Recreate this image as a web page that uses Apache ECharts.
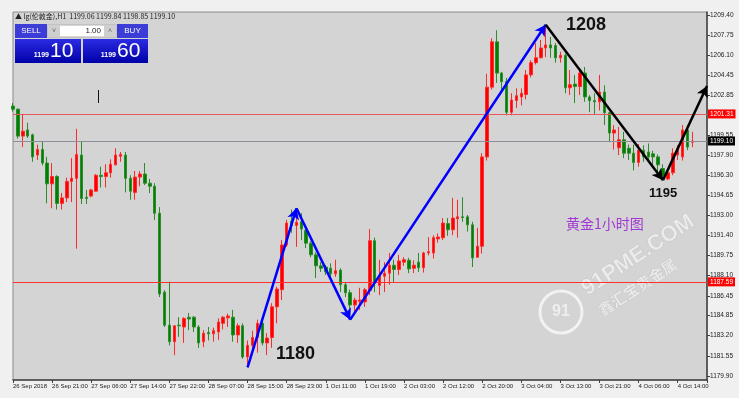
<!DOCTYPE html>
<html lang="zh-CN">
<head>
<meta charset="utf-8">
<title>黄金1小时图</title>
<script src="https://cdn.jsdelivr.net/npm/echarts@6/dist/echarts.min.js"></script>
<style>
  * { margin: 0; padding: 0; }
  html, body, #chart { width: 100%; height: 100%; overflow: hidden; background: #f0f0f0; }
</style>
</head>
<body>
<div id="chart"></div>
<script>
// H1 bars (open / close / low / high)
var opens = [
  1201.95, 1201.7, 1199.5, 1200.0, 1199.6, 1197.95, 1198.4, 1197.3, 1195.6, 1196.2,
  1194.0, 1194.45, 1195.8, 1196.05, 1197.95, 1194.5, 1194.6, 1195.0, 1196.3, 1196.2,
  1196.5, 1197.15, 1197.85, 1197.95, 1196.05, 1194.9, 1196.15, 1196.4, 1195.65, 1195.4,
  1193.2, 1186.75, 1184.05, 1182.7, 1184.05, 1183.9, 1184.7, 1184.7, 1183.9, 1182.7,
  1183.45, 1183.35, 1183.5, 1184.2, 1184.65, 1184.7, 1183.25, 1184.0, 1181.45, 1182.4,
  1183.05, 1184.2, 1182.6, 1183.05, 1185.55, 1186.95, 1190.6, 1192.55, 1192.2, 1192.5,
  1191.8, 1190.75, 1189.8, 1188.9, 1188.8, 1188.7, 1188.25, 1188.55, 1187.35, 1186.7,
  1185.7, 1186.0, 1185.95, 1186.9, 1190.95, 1187.3, 1188.05, 1188.3, 1188.95, 1188.6,
  1189.2, 1189.35, 1188.7, 1189.2, 1188.75, 1189.95, 1189.95, 1191.1, 1191.2, 1192.35,
  1191.85, 1192.75, 1192.9, 1192.9, 1192.25, 1189.6, 1190.5, 1197.8, 1203.5, 1207.2,
  1204.65, 1203.95, 1201.45, 1202.4, 1202.7, 1202.9, 1204.5, 1205.5, 1205.9, 1206.7,
  1206.95, 1206.9, 1205.9, 1206.1, 1203.45, 1203.75, 1203.55, 1204.65, 1202.7, 1202.4,
  1202.3, 1203.1, 1201.4, 1199.75, 1198.55, 1199.2, 1198.5, 1198.1, 1197.35, 1198.35,
  1198.2, 1198.05, 1197.8, 1196.85, 1196.0, 1196.5, 1197.95, 1197.8, 1200.0, 1199.0
];
var closes = [
  1201.7, 1199.5, 1199.9, 1199.5, 1197.8, 1198.4, 1197.3, 1195.6, 1196.2, 1194.0,
  1194.45, 1195.8, 1196.05, 1198.0, 1194.4, 1194.4, 1195.1, 1196.3, 1196.2, 1196.5,
  1197.2, 1197.95, 1198.0, 1196.05, 1195.0, 1196.15, 1196.4, 1195.65, 1195.4, 1193.2,
  1186.6, 1184.05, 1182.7, 1184.0, 1184.0, 1184.6, 1184.55, 1183.9, 1182.6, 1183.4,
  1183.35, 1183.6, 1184.3, 1184.7, 1184.8, 1183.25, 1184.0, 1181.45, 1182.4, 1183.05,
  1184.2, 1182.6, 1183.0, 1185.55, 1187.0, 1190.6, 1192.4, 1192.2, 1192.45, 1191.9,
  1190.75, 1189.8, 1188.9, 1188.7, 1188.4, 1188.25, 1188.5, 1187.35, 1186.7, 1185.7,
  1186.1, 1186.1, 1186.95, 1190.95, 1187.5, 1188.05, 1188.3, 1188.95, 1188.6, 1189.3,
  1189.4, 1188.65, 1188.95, 1188.75, 1189.95, 1190.05, 1191.2, 1191.25, 1192.4, 1191.85,
  1192.8, 1192.9, 1192.85, 1192.25, 1189.55, 1190.5, 1197.8, 1203.5, 1207.2, 1204.65,
  1203.95, 1201.45, 1202.45, 1202.8, 1203.0, 1204.5, 1205.5, 1205.9, 1206.7, 1206.95,
  1206.7, 1205.9, 1206.1, 1203.45, 1203.7, 1203.55, 1204.65, 1202.7, 1202.4, 1202.3,
  1203.1, 1201.4, 1199.75, 1200.0, 1199.2, 1198.1, 1198.1, 1197.35, 1198.35, 1197.8,
  1197.8, 1197.8, 1197.15, 1196.25, 1196.5, 1198.1, 1198.5, 1200.0, 1198.6, 1199.1
];
var lows = [
  1201.5, 1199.3, 1198.6, 1199.35, 1197.4, 1197.55, 1197.1, 1194.0, 1193.6, 1193.5,
  1193.5, 1194.1, 1194.1, 1190.3, 1193.95, 1193.95, 1194.5, 1194.95, 1195.3, 1195.3,
  1196.1, 1197.1, 1197.4, 1194.9, 1194.3, 1194.3, 1195.4, 1195.5, 1194.85, 1192.65,
  1186.35, 1183.9, 1182.4, 1181.6, 1183.1, 1182.6, 1183.65, 1183.5, 1182.2, 1182.25,
  1182.8, 1182.7, 1182.85, 1183.7, 1183.9, 1182.7, 1182.6, 1181.3, 1180.6, 1182.1,
  1181.8, 1182.4, 1181.6, 1182.2, 1184.2, 1186.1, 1190.45, 1191.6, 1190.45, 1191.0,
  1190.35, 1189.6, 1187.9, 1188.4, 1188.15, 1188.0, 1188.0, 1186.75, 1186.35, 1184.9,
  1185.0, 1185.3, 1185.55, 1186.5, 1186.75, 1186.5, 1186.75, 1187.35, 1187.5, 1188.15,
  1188.9, 1188.3, 1188.3, 1188.4, 1188.35, 1189.75, 1189.5, 1190.8, 1191.0, 1191.35,
  1191.4, 1191.2, 1192.5, 1191.7, 1188.8, 1189.55, 1189.9, 1197.5, 1203.3, 1203.85,
  1203.3, 1201.2, 1201.2, 1201.8, 1202.0, 1202.5, 1204.3, 1205.35, 1205.85, 1205.95,
  1205.9, 1205.5, 1205.5, 1203.0, 1202.85, 1202.2, 1202.85, 1202.3, 1201.45, 1201.25,
  1201.6, 1200.4, 1199.0, 1198.4, 1197.95, 1197.7, 1197.55, 1196.7, 1197.0, 1197.4,
  1197.55, 1196.9, 1196.4, 1195.9, 1195.9, 1196.3, 1197.55, 1197.5, 1198.35, 1198.6
];
var highs = [
  1202.2, 1201.75, 1201.3, 1200.6, 1199.7, 1198.8, 1199.1, 1197.8, 1197.3, 1196.3,
  1194.85, 1196.1, 1197.7, 1200.1, 1199.1, 1195.1, 1195.2, 1196.4, 1197.0, 1197.2,
  1197.6, 1198.5, 1198.2, 1198.2, 1196.3, 1196.65, 1196.65, 1197.3, 1196.0, 1195.65,
  1193.7, 1186.9, 1187.6, 1184.05, 1184.7, 1184.7, 1185.05, 1184.8, 1184.05, 1183.65,
  1183.9, 1183.85, 1184.6, 1184.8, 1185.0, 1185.3, 1184.2, 1184.2, 1182.8, 1183.6,
  1184.5, 1184.3, 1183.4, 1185.85, 1187.2, 1191.0, 1192.65, 1193.5, 1193.2, 1193.2,
  1191.9, 1190.9, 1190.0, 1189.2, 1188.95, 1189.1, 1189.4, 1188.7, 1187.5, 1186.95,
  1186.3, 1187.1, 1187.1, 1191.9, 1191.2, 1189.4, 1189.2, 1189.95, 1189.4, 1189.8,
  1189.6, 1189.55, 1189.35, 1189.95, 1190.05, 1191.25, 1191.4, 1191.55, 1192.8, 1192.8,
  1194.45, 1194.3, 1194.5, 1193.05, 1192.5, 1192.0, 1198.1, 1204.6, 1207.5, 1208.15,
  1204.75, 1204.25, 1203.0, 1203.4, 1203.4, 1204.9, 1205.7, 1207.1, 1207.35, 1208.6,
  1207.6, 1207.1, 1206.4, 1206.25, 1204.9, 1204.5, 1204.85, 1205.15, 1202.85, 1203.0,
  1204.5, 1203.65, 1201.45, 1200.4, 1200.25, 1199.85, 1198.8, 1198.8, 1198.85, 1198.75,
  1198.9, 1198.3, 1198.0, 1197.2, 1196.7, 1198.5, 1198.75, 1200.4, 1200.4, 1199.85
];
var emptySlots = 3;   // free space MT4 leaves right of the last bar

var tickLabels = [
  '26 Sep 2018', '26 Sep 21:00', '27 Sep 06:00', '27 Sep 14:00', '27 Sep 22:00',
  '28 Sep 07:00', '28 Sep 15:00', '28 Sep 23:00', '1 Oct 11:00', '1 Oct 19:00',
  '2 Oct 03:00', '2 Oct 12:00', '2 Oct 20:00', '3 Oct 04:00', '3 Oct 13:00',
  '3 Oct 21:00', '4 Oct 06:00', '4 Oct 14:00'
];
var priceTicks = [
  1179.90, 1181.55, 1183.20, 1184.85, 1186.45, 1188.10, 1189.75, 1191.40, 1193.00,
  1194.65, 1196.30, 1197.90, 1199.55, 1202.85, 1204.45, 1206.10, 1207.75, 1209.40
];
var levels = { resist: 1201.31, support: 1187.59, bid: 1199.10 };

// swing points [bar, price] for the drawn arrows
var blueSwings = [[48, 1180.6], [58, 1193.6], [69, 1184.5], [109, 1208.6]];
var blackSwings = [[109, 1208.6], [133, 1195.9], [142, 1203.6]];

var candles = [];
var cats = [];
for (var i = 0; i < opens.length + emptySlots; i++) {
  cats.push(String(i));
  candles.push(i < opens.length ? [opens[i], closes[i], lows[i], highs[i]] : '-');
}

var axisFont = 'Liberation Sans, Arial, sans-serif';

function levelLine(val, color, bg) {
  return {
    yAxis: val,
    lineStyle: { color: color, width: 1, type: 'solid' },
    label: {
      show: true, position: 'end', distance: 1,
      formatter: val.toFixed(2),
      color: '#fff', backgroundColor: bg, fontSize: 6.5, fontFamily: axisFont,
      padding: [1, 2, 1, 2]
    }
  };
}
function swingLines(points, color) {
  var out = [];
  for (var k = 0; k < points.length - 1; k++) {
    out.push([
      { coord: points[k], lineStyle: { color: color, width: 2.5, type: 'solid' } },
      { coord: points[k + 1] }
    ]);
  }
  return out;
}

var chart = echarts.init(document.getElementById('chart'));
chart.setOption({
  animation: false,
  backgroundColor: '#f0f0f0',
  grid: {
    left: 13, right: 32, top: 12, bottom: 18,
    show: true, backgroundColor: '#d4d4d4', borderColor: '#8c8c8c', borderWidth: 1
  },
  xAxis: {
    type: 'category',
    data: cats,
    boundaryGap: false,
    axisLine: { lineStyle: { color: '#404040', width: 1.5 } },
    axisTick: { interval: 7, length: 3, lineStyle: { color: '#404040' } },
    axisLabel: {
      interval: 7, align: 'left', margin: 3,
      showMinLabel: true, showMaxLabel: true,
      fontSize: 6, fontFamily: axisFont, color: '#222',
      formatter: function (v, idx) { return tickLabels[idx / 8] || ''; }
    },
    splitLine: { show: false }
  },
  yAxis: {
    type: 'value',
    position: 'right',
    min: 1179.57, max: 1209.64,
    axisLine: { show: true, lineStyle: { color: '#404040', width: 1.5 } },
    axisTick: { show: true, length: 3, customValues: priceTicks, lineStyle: { color: '#404040' } },
    axisLabel: {
      customValues: priceTicks, margin: 3,
      fontSize: 6.5, fontFamily: axisFont, color: '#222',
      formatter: function (v) { return v.toFixed(2); }
    },
    splitLine: { show: false }
  },
  series: [{
    type: 'candlestick',
    data: candles,
    barWidth: 3,
    clip: true,
    itemStyle: {
      color: '#ff0000', color0: '#008000',
      borderColor: '#ff2a2a', borderColor0: '#2a8c2a', borderWidth: 1
    },
    markLine: {
      silent: true,
      symbol: 'none',
      data: [
        levelLine(levels.resist, '#e85a5a', '#ff0000'),
        levelLine(levels.bid, '#8e8e98', '#000000'),
        levelLine(levels.support, '#ff3030', '#ff0000')
      ]
    }
  }, {
    // carrier for the hand-drawn swing arrows
    type: 'line',
    data: [],
    markLine: {
      silent: true,
      symbol: ['none', 'arrow'],
      symbolSize: [9, 11],
      label: { show: false },
      data: swingLines(blueSwings, '#0000ff').concat(swingLines(blackSwings, '#000000'))
    }
  }],
  graphic: [
    // info line
    { type: 'text', left: 15, top: 13, style: {
        text: '▲ lg(伦敦金),H1  1199.06 1199.84 1198.85 1199.10',
        font: '7px "Noto Sans CJK SC", sans-serif', fill: '#222' } },
    // one-click trading panel
    { type: 'rect', shape: { x: 15, y: 24, width: 32, height: 14 }, style: { fill: '#3c3cd6' } },
    { type: 'text', x: 31, y: 31, style: { text: 'SELL', fill: '#fff', font: '8px "Liberation Sans", sans-serif', align: 'center', verticalAlign: 'middle' } },
    { type: 'rect', shape: { x: 48, y: 25, width: 68, height: 12 }, style: { fill: '#ffffff', stroke: '#b0b0b0', lineWidth: 1 } },
    { type: 'rect', shape: { x: 48, y: 25, width: 12, height: 12 }, style: { fill: '#cfcfcf' } },
    { type: 'rect', shape: { x: 104, y: 25, width: 12, height: 12 }, style: { fill: '#cfcfcf' } },
    { type: 'text', x: 54, y: 31, style: { text: '˅', fill: '#666', font: '7px sans-serif', align: 'center', verticalAlign: 'middle' } },
    { type: 'text', x: 110, y: 31, style: { text: '˄', fill: '#666', font: '7px sans-serif', align: 'center', verticalAlign: 'middle' } },
    { type: 'text', x: 101, y: 31, style: { text: '1.00', fill: '#222', font: '8px "Liberation Sans", sans-serif', align: 'right', verticalAlign: 'middle' } },
    { type: 'rect', shape: { x: 117, y: 24, width: 31, height: 14 }, style: { fill: '#3c3cd6' } },
    { type: 'text', x: 132.5, y: 31, style: { text: 'BUY', fill: '#fff', font: '8px "Liberation Sans", sans-serif', align: 'center', verticalAlign: 'middle' } },
    { type: 'rect', shape: { x: 15, y: 39, width: 66, height: 24 }, style: {
        fill: new echarts.graphic.LinearGradient(0, 0, 0, 1, [{ offset: 0, color: '#2b2be2' }, { offset: 1, color: '#0000a8' }]) } },
    { type: 'rect', shape: { x: 83, y: 39, width: 65, height: 24 }, style: {
        fill: new echarts.graphic.LinearGradient(0, 0, 0, 1, [{ offset: 0, color: '#2b2be2' }, { offset: 1, color: '#0000a8' }]) } },
    { type: 'text', x: 49, y: 55, style: { text: '1199', fill: '#fff', font: 'bold 7px "Liberation Sans", sans-serif', align: 'right', verticalAlign: 'middle' } },
    { type: 'text', x: 50, y: 51, style: { text: '10', fill: '#fff', font: '21px "Liberation Sans", sans-serif', verticalAlign: 'middle' } },
    { type: 'text', x: 116, y: 55, style: { text: '1199', fill: '#fff', font: 'bold 7px "Liberation Sans", sans-serif', align: 'right', verticalAlign: 'middle' } },
    { type: 'text', x: 117, y: 51, style: { text: '60', fill: '#fff', font: '21px "Liberation Sans", sans-serif', verticalAlign: 'middle' } },
    // cursor mark
    { type: 'line', shape: { x1: 98.5, y1: 90, x2: 98.5, y2: 103 }, style: { stroke: '#111', lineWidth: 1 } },
    // watermark
    { type: 'circle', shape: { cx: 561, cy: 312, r: 21 }, style: { fill: 'none', stroke: 'rgba(255,255,255,0.7)', lineWidth: 3 } },
    { type: 'text', x: 561, y: 312, style: { text: '91', fill: 'rgba(255,255,255,0.6)', font: 'bold 16px "Liberation Sans", sans-serif', align: 'center', verticalAlign: 'middle' } },
    { type: 'text', x: 590, y: 300, rotation: 0.58, style: {
        text: '91PME.COM', fill: 'rgba(255,255,255,0.55)', stroke: 'rgba(170,170,170,0.5)', lineWidth: 0.6,
        font: 'bold 22px "Liberation Sans", sans-serif', verticalAlign: 'bottom' } },
    { type: 'text', x: 604, y: 318, rotation: 0.58, style: {
        text: '鑫汇宝贵金属', fill: 'rgba(255,255,255,0.55)', stroke: 'rgba(170,170,170,0.5)', lineWidth: 0.5,
        font: 'bold 15px "Noto Sans CJK SC", sans-serif', verticalAlign: 'bottom' } },
    // annotations
    { type: 'text', left: 276, top: 345, style: { text: '1180', fill: '#111', font: 'bold 18px "Liberation Sans", sans-serif' } },
    { type: 'text', left: 566, top: 16, style: { text: '1208', fill: '#111', font: 'bold 18px "Liberation Sans", sans-serif' } },
    { type: 'text', left: 649, top: 187, style: { text: '1195', fill: '#111', font: 'bold 13px "Liberation Sans", sans-serif' } },
    { type: 'text', left: 566, top: 217, style: { text: '黄金1小时图', fill: '#a238d4', font: '14px "Noto Sans CJK SC", sans-serif' } }
  ]
});
</script>
</body>
</html>
